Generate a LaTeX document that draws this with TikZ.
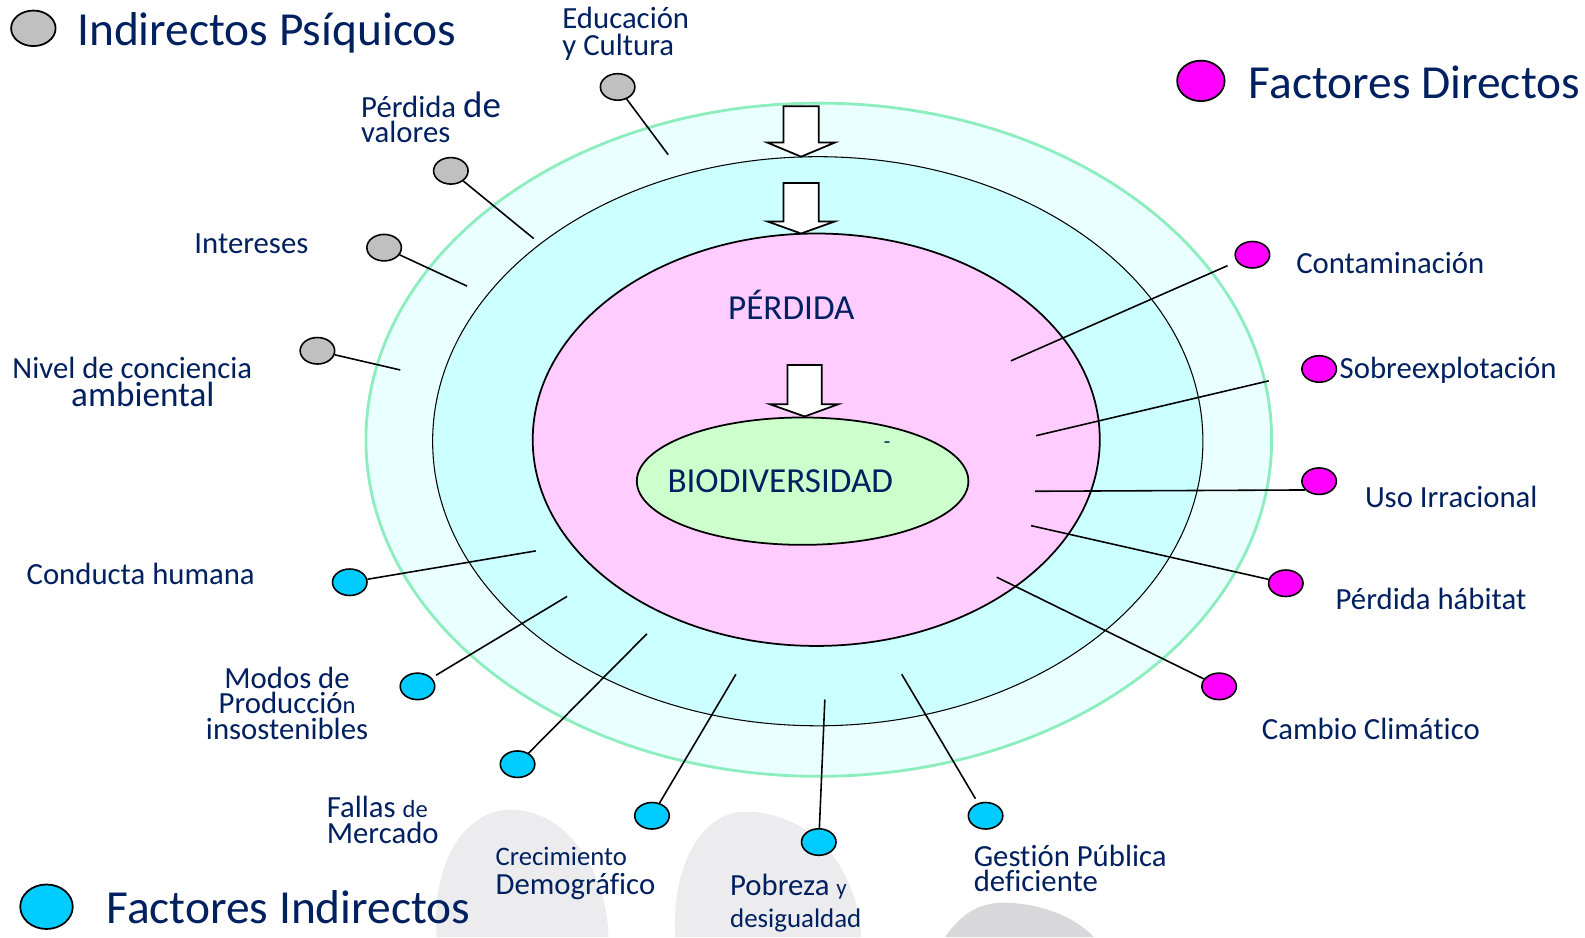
\documentclass[tikz,border=0pt]{standalone}
\usepackage{fontspec}
\setmainfont{Carlito}[Ligatures=NoCommon]
\usetikzlibrary{shapes.geometric}
\definecolor{navy}{RGB}{0,32,96}
\definecolor{ringout}{RGB}{234,255,255}
\definecolor{ringmid}{RGB}{204,255,255}
\definecolor{ringpink}{RGB}{255,204,255}
\definecolor{ringgreen}{RGB}{204,255,204}
\definecolor{ringline}{RGB}{140,238,190}
\definecolor{dotgrey}{RGB}{192,192,192}
\definecolor{dotmag}{RGB}{255,0,255}
\definecolor{dotcyan}{RGB}{0,204,255}
\definecolor{blobA}{RGB}{236,236,238}
\definecolor{blobC}{RGB}{216,216,218}
% stacked lines, baseline of the node = baseline of the first line
\newcommand{\stackL}[2]{\vtop{\baselineskip=#1\lineskiplimit=-100pt\lineskip=0pt\halign{##\hfil\cr#2\crcr}}}
\newcommand{\stackC}[2]{\vtop{\baselineskip=#1\lineskiplimit=-100pt\lineskip=0pt\halign{\hfil##\hfil\cr#2\crcr}}}
\tikzset{
  lbl/.style={anchor=base west, inner sep=0pt, text=navy, font=\fontsize{17.5}{18}\selectfont},
  lblc/.style={lbl, anchor=base},
  biglbl/.style={lbl, font=\fontsize{27}{30}\selectfont},
  dot/.style={ellipse, draw=black, line width=0.9pt, minimum width=0.69cm, minimum height=0.53cm, inner sep=0pt},
  legdot/.style={ellipse, draw=black, line width=1pt, inner sep=0pt},
  conn/.style={draw=black, line width=0.9pt},
  blockarrow/.style={draw=black, fill=white, line width=1pt, line join=miter}
}
\begin{document}
\begin{tikzpicture}[x=0.02022cm,y=-0.02022cm]
\useasboundingbox (0,0) rectangle (1568,927);
\fill[white] (0,0) rectangle (1568,927);

% background blobs
\fill[blobA] (432,927) .. controls (426,850) and (462,801) .. (505,801)
  .. controls (560,801) and (600,860) .. (602,927) -- cycle;
\fill[blobA] (668,927) .. controls (664,850) and (698,803) .. (737,803)
  .. controls (800,803) and (848,855) .. (852,927) -- cycle;
\fill[blobC] (935,927) .. controls (950,905) and (968,893) .. (992,893)
  .. controls (1030,893) and (1065,908) .. (1082,927) -- cycle;

% concentric rings
\draw[fill=ringout, draw=ringline, line width=1.6pt] (810,435) ellipse [x radius=448, y radius=333];
\draw[fill=ringmid, draw=black, line width=0.6pt] (809,436.5) ellipse [x radius=381, y radius=281.5];
\draw[fill=ringpink, draw=black, line width=1pt] (807.5,435) ellipse [x radius=280.5, y radius=204];
\draw[fill=ringgreen, draw=black, line width=1pt] (794,476) ellipse [x radius=164, y radius=63];

% block arrows
\draw[blockarrow] (775,105) -- (810,105) -- (810,141) -- (826,141) -- (792.5,155) -- (759,141) -- (775,141) -- cycle;
\draw[blockarrow] (775,181) -- (810,181) -- (810,219) -- (826,219) -- (792.5,231) -- (759,219) -- (775,219) -- cycle;
\draw[blockarrow] (779,361) -- (813,361) -- (813,400) -- (829,400) -- (796,412) -- (762,400) -- (779,400) -- cycle;

% center labels
\node[lbl, font=\fontsize{20}{22}\selectfont] (perdida) at (720,316) {PÉRDIDA};
\node[lbl, font=\fontsize{20}{22}\selectfont] (biodiv) at (660,487) {BIODIVERSIDAD};
\node[lbl, font=\fontsize{12}{14}\selectfont] (dash) at (874,444) {-};

% legend
\node[legdot, fill=dotgrey, minimum width=0.89cm, minimum height=0.71cm] (legG) at (33,28) {};
\node[biglbl] (legGt) at (76,45) {Indirectos Psíquicos};
\node[legdot, fill=dotmag, minimum width=0.95cm, minimum height=0.81cm] (legM) at (1188,80) {};
\node[biglbl] (legMt) at (1235,97) {Factores Directos};
\node[legdot, fill=dotcyan, minimum width=1.05cm, minimum height=0.89cm] (legC) at (46,897) {};
\node[biglbl] (legCt) at (105,914) {Factores Indirectos};

% grey dots (psychic indirect factors)
\node[dot, fill=dotgrey] (g1) at (611,86) {};
\node[dot, fill=dotgrey] (g2) at (446,169) {};
\node[dot, fill=dotgrey] (g3) at (380,245) {};
\node[dot, fill=dotgrey] (g4) at (314,347) {};
\coordinate (ig1) at (661,153);
\coordinate (ig2) at (528,236);
\coordinate (ig3) at (462,283);
\coordinate (ig4) at (396,366);
\draw[conn] (ig1) -- (g1);
\draw[conn] (ig2) -- (g2);
\draw[conn] (ig3) -- (g3);
\draw[conn] (ig4) -- (g4);
\node[lbl] (t1) at (556,28) {\stackL{15.5pt}{Educación\cr y Cultura}};
\node[lbl] (t2) at (357,116) {\stackL{14.4pt}{Pérdida {\fontsize{21}{22}\selectfont de}\cr valores}};
\node[lbl] (t3) at (192,251) {Intereses};
\node[lbl] (t4) at (12,374) {\stackC{16.1pt}{Nivel de conciencia\cr \hskip12pt{\fontsize{20}{22}\selectfont ambiental}}};

% magenta dots (direct factors)
\node[dot, fill=dotmag] (m1) at (1239,252) {};
\node[dot, fill=dotmag] (m2) at (1305,365) {};
\node[dot, fill=dotmag] (m3) at (1305,476) {};
\node[dot, fill=dotmag] (m4) at (1272,577) {};
\node[dot, fill=dotmag] (m5) at (1206,679) {};
\coordinate (im1) at (1000,357);
\coordinate (im2) at (1025,431);
\coordinate (im3) at (1024,486);
\coordinate (im4) at (1020,520);
\coordinate (im5) at (986,571);
\draw[conn, shorten >=0.2cm] (im1) -- (m1);
\draw[conn, shorten >=0.68cm] (im2) -- (m2);
\draw[conn] (im3) -- (m3.212);
\draw[conn] (im4) -- (m4);
\draw[conn] (im5) -- (m5);
\node[lbl] (t5) at (1282,271) {Contaminación};
\node[lbl] (t6) at (1325,374) {Sobreexplotación};
\node[lbl] (t7) at (1350,502) {Uso Irracional};
\node[lbl] (t8) at (1321,603) {Pérdida hábitat};
\node[lbl] (t9) at (1248,732) {Cambio Climático};

% cyan dots (indirect factors)
\node[dot, fill=dotcyan] (c1) at (346,576) {};
\node[dot, fill=dotcyan] (c2) at (413,679) {};
\node[dot, fill=dotcyan] (c3) at (512,756) {};
\node[dot, fill=dotcyan] (c4) at (645,807) {};
\node[dot, fill=dotcyan] (c5) at (810,833) {};
\node[dot, fill=dotcyan] (c6) at (975,807) {};
\coordinate (ic1) at (530,545);
\coordinate (ic2) at (561,590);
\coordinate (ic3) at (640,627);
\coordinate (ic4) at (728,667);
\coordinate (ic5) at (816,692);
\coordinate (ic6) at (892,667);
\draw[conn] (ic1) -- (c1);
\draw[conn, shorten >=0.1cm] (ic2) -- (c2);
\draw[conn] (ic3) -- (c3);
\draw[conn] (ic4) -- (c4);
\draw[conn] (ic5) -- (c5);
\draw[conn, shorten >=0.1cm] (ic6) -- (c6);
\node[lbl] (t10) at (26,578) {Conducta humana};
\node[lblc] (t11) at (284,681) {\stackC{14.4pt}{Modos de\cr Producció{\fontsize{14}{15}\selectfont n}\cr insostenibles}};
\node[lbl] (t12) at (323,809) {\stackL{14.4pt}{Fallas {\fontsize{14}{15}\selectfont de}\cr Mercado}};
\node[lbl] (t13) at (490,856) {\stackL{16.7pt}{{\fontsize{15.2}{16}\selectfont Crecimiento}\cr Demográfico}};
\node[lbl] (t14) at (722,886) {\stackL{18.4pt}{Pobreza {\fontsize{13}{14}\selectfont y}\cr {\fontsize{15.3}{16}\selectfont desigualdad}}};
\node[lbl] (t15) at (963,857) {\stackL{14.4pt}{Gestión Pública\cr deficiente}};
\end{tikzpicture}
\end{document}
